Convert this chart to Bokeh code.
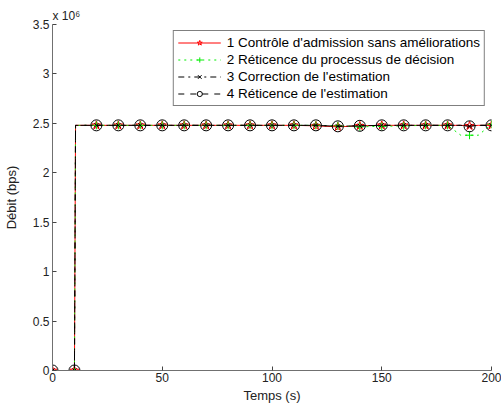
from bokeh.plotting import figure
from bokeh.models import Legend, LegendItem, FixedTicker
from bokeh.embed import file_html
from bokeh.resources import INLINE

# ---- data ----
t_line = [0, 10, 10.5, 20, 30, 40, 50, 60, 70, 80, 90, 100, 110, 120, 130, 140, 150,
          160, 170, 180, 186, 190, 194, 200]
s1 = [0, 0, 2.48e6, 2.48e6, 2.48e6, 2.48e6, 2.48e6, 2.48e6, 2.48e6, 2.48e6, 2.48e6, 2.48e6,
      2.48e6, 2.475e6, 2.465e6, 2.475e6, 2.48e6, 2.48e6, 2.48e6, 2.48e6, 2.48e6, 2.475e6,
      2.48e6, 2.48e6]
s2 = [0, 0, 2.48e6, 2.48e6, 2.48e6, 2.48e6, 2.48e6, 2.48e6, 2.48e6, 2.48e6, 2.48e6, 2.48e6,
      2.48e6, 2.48e6, 2.475e6, 2.465e6, 2.47e6, 2.475e6, 2.48e6, 2.48e6, 2.38e6, 2.38e6,
      2.38e6, 2.49e6]
s3 = [0, 0, 2.48e6, 2.48e6, 2.48e6, 2.48e6, 2.48e6, 2.48e6, 2.48e6, 2.48e6, 2.48e6, 2.48e6,
      2.48e6, 2.48e6, 2.47e6, 2.475e6, 2.48e6, 2.48e6, 2.48e6, 2.48e6, 2.48e6, 2.47e6,
      2.48e6, 2.48e6]
s4 = [0, 0, 2.48e6, 2.48e6, 2.48e6, 2.48e6, 2.48e6, 2.48e6, 2.48e6, 2.48e6, 2.48e6, 2.48e6,
      2.48e6, 2.48e6, 2.47e6, 2.475e6, 2.48e6, 2.48e6, 2.48e6, 2.48e6, 2.48e6, 2.47e6,
      2.48e6, 2.48e6]
labels = ["1 Contrôle d'admission sans améliorations",
          "2 Réticence du processus de décision",
          "3 Correction de l'estimation",
          "4 Réticence de l'estimation"]
x_ticks = [0, 50, 100, 150, 200]
y_ticks = [0, 0.5e6, 1e6, 1.5e6, 2e6, 2.5e6, 3e6, 3.5e6]
y_tick_labels = ["0", "0.5", "1", "1.5", "2", "2.5", "3", "3.5"]

FONT = "Liberation Sans"

p = figure(width=501, height=410, x_range=(0, 200), y_range=(0, 3.5e6),
           output_backend="svg", toolbar_location=None,
           min_border_left=52, min_border_right=10, min_border_top=24, min_border_bottom=40)
p.outline_line_color = None
p.grid.visible = False

p.title.text = "x 10\u2076"
p.title.align = "left"
p.title.text_font = FONT
p.title.text_font_size = "12px"
p.title.text_font_style = "normal"
p.title.text_color = "#222222"
p.title.standoff = 4

def markers_of(vals):
    mx = [t for t in t_line if t % 10 == 0]
    my = [v for t, v in zip(t_line, vals) if t % 10 == 0]
    return mx, my

styles = [
    dict(color="#ff0000", dash="solid", marker="star", size=9),
    dict(color="#00ee00", dash="dotted", marker="cross", size=8),
    dict(color="#000000", dash="dashdot", marker="x", size=6),
    dict(color="#000000", dash="dashed", marker="circle", size=11),
]
items = []
for vals, st, lab in zip([s1, s2, s3, s4], styles, labels):
    r1 = p.line(t_line, vals, line_color=st["color"], line_dash=st["dash"], line_width=1)
    mx, my = markers_of(vals)
    r2 = p.scatter(mx, my, marker=st["marker"], size=st["size"], line_color=st["color"],
                   fill_color=None, line_width=1)
    items.append(LegendItem(label=lab, renderers=[r1, r2]))

legend = Legend(items=items, location="top_right")
legend.label_text_font = FONT
legend.label_text_font_size = "13.5px"
legend.label_text_color = "black"
legend.border_line_color = "black"
legend.border_line_width = 1
legend.glyph_width = 43
legend.glyph_height = 13
legend.label_height = 13
legend.spacing = 2
legend.padding = 4
legend.margin = 6
legend.label_standoff = 6
p.add_layout(legend)

for ax in [p.xaxis[0], p.yaxis[0]]:
    ax.axis_line_color = "#707070"
    ax.major_tick_line_color = "#444444"
    ax.major_tick_in = 4
    ax.major_tick_out = 0
    ax.minor_tick_line_color = None
    ax.major_label_text_font = FONT
    ax.major_label_text_font_size = "12px"
    ax.major_label_text_color = "#222222"
    ax.axis_label_text_font = FONT
    ax.axis_label_text_font_size = "13px"
    ax.axis_label_text_font_style = "normal"
    ax.axis_label_text_color = "#222222"

p.xaxis.ticker = FixedTicker(ticks=x_ticks)
p.xaxis.major_label_standoff = 2
p.xaxis.axis_label = "Temps (s)"
p.xaxis.axis_label_standoff = 3
p.yaxis.ticker = FixedTicker(ticks=y_ticks)
p.yaxis.major_label_overrides = {v: s for v, s in zip(y_ticks, y_tick_labels)}
p.yaxis.major_label_standoff = 3
p.yaxis.axis_label = "Débit (bps)"
p.yaxis.axis_label_standoff = 11

open("out.html", "w").write(file_html(p, INLINE))
